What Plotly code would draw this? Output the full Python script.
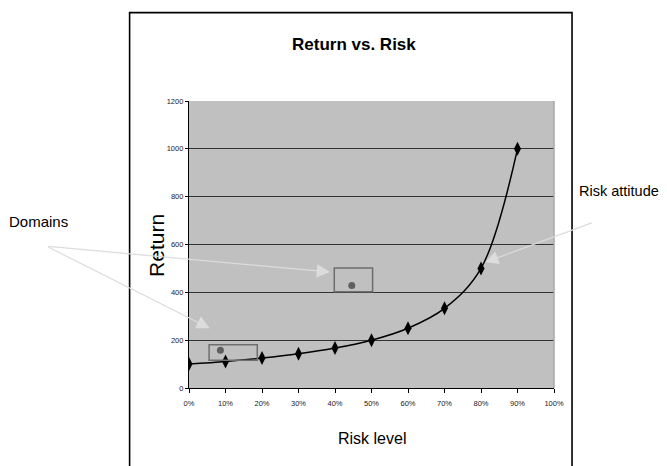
import plotly.graph_objects as go

# ---- data ----
risk_level = [0.0, 0.1, 0.2, 0.3, 0.4, 0.5, 0.6, 0.7, 0.8, 0.9]
returns = [100, 111, 125, 143, 167, 200, 250, 333, 500, 1000]

domain_dot_x = [0.086, 0.446]
domain_dot_y = [158, 429]
domain_box_x0 = [0.055, 0.398]
domain_box_x1 = [0.187, 0.503]
domain_box_y0 = [116, 402]
domain_box_y1 = [181, 502]

x_ticks = [0.0, 0.1, 0.2, 0.3, 0.4, 0.5, 0.6, 0.7, 0.8, 0.9, 1.0]
y_ticks = [0, 200, 400, 600, 800, 1000, 1200]

OFF = 8  # page body margin
W, H = 667 - OFF, 466 - OFF
L, R, T, B = 189.3 - OFF, 553.7 - OFF, 100.7 - OFF, 387.7 - OFF


def px(x):
    return (x - OFF - L) / (R - L)


def py(y):
    return (B - (y - OFF)) / (B - T)


ARIAL = "Liberation Sans, Arial, sans-serif"

fig = go.Figure()

fig.add_trace(go.Scatter(
    x=risk_level, y=returns, mode="lines+markers",
    line=dict(color="black", width=1.5, shape="spline", smoothing=1.0),
    marker=dict(symbol="diamond-tall", size=10, color="black"),
    showlegend=False, hoverinfo="skip",
))

fig.add_trace(go.Scatter(
    x=domain_dot_x, y=domain_dot_y, mode="markers",
    marker=dict(symbol="circle", size=7, color="#5f5f5f"),
    showlegend=False, hoverinfo="skip",
))

shapes = []
for x0, x1, y0, y1 in zip(domain_box_x0, domain_box_x1, domain_box_y0, domain_box_y1):
    shapes.append(dict(type="rect", xref="x", yref="y", x0=x0, x1=x1, y0=y0, y1=y1,
                       line=dict(color="#6e6e6e", width=1.5), fillcolor="rgba(0,0,0,0)"))

# right edge of plot area
shapes.append(dict(type="line", xref="paper", yref="paper", x0=1, x1=1, y0=0, y1=1,
                   line=dict(color="#a8a8a8", width=1.5)))
# outer frame
shapes.append(dict(type="rect", xref="paper", yref="paper",
                   x0=px(130), x1=px(571.7), y0=py(480), y1=py(12.3),
                   line=dict(color="black", width=1.6), fillcolor="rgba(0,0,0,0)", layer="above"))

annotations = []
# chart title
annotations.append(dict(text="<b>Return vs. Risk</b>", xref="paper", yref="paper", x=px(354), y=py(44),
                        xanchor="center", yanchor="middle", showarrow=False,
                        font=dict(family=ARIAL, size=17, color="black")))
# text labels
annotations.append(dict(text="Domains", xref="paper", yref="paper", x=px(8), y=py(221),
                        xanchor="left", yanchor="middle", showarrow=False,
                        font=dict(family=ARIAL, size=15, color="black")))
annotations.append(dict(text="Risk attitude", xref="paper", yref="paper", x=px(577), y=py(191),
                        xanchor="left", yanchor="middle", showarrow=False,
                        font=dict(family=ARIAL, size=14.5, color="black")))
annotations.append(dict(text="Return", xref="paper", yref="paper", x=px(157), y=py(245),
                        xanchor="center", yanchor="middle", showarrow=False, textangle=-90,
                        font=dict(family=ARIAL, size=21, color="black")))
annotations.append(dict(text="Risk level", xref="paper", yref="paper", x=px(372), y=py(438),
                        xanchor="center", yanchor="middle", showarrow=False,
                        font=dict(family=ARIAL, size=16, color="black")))

# arrows (tail -> tip, in pixels)
arrows = [((47, 246), (330, 271.7)), ((47, 246), (210, 328)), ((593, 222), (485, 262))]
for (tx, ty), (hx, hy) in arrows:
    annotations.append(dict(text="", xref="paper", yref="paper", x=px(hx), y=py(hy),
                            ax=tx - hx, ay=ty - hy, showarrow=True,
                            arrowhead=2, arrowsize=2.2, arrowwidth=1.2, arrowcolor="#dcdcdc"))

fig.update_layout(
    width=W, height=H,
    margin=dict(l=L, r=W - R, t=T, b=H - B, pad=0),
    paper_bgcolor="white", plot_bgcolor="#c0c0c0",
    shapes=shapes, annotations=annotations,
    xaxis=dict(range=[0, 1], tickvals=x_ticks, tickformat=".0%",
               showgrid=False, zeroline=False, showline=True, linecolor="black", linewidth=1.2,
               ticks="outside", ticklen=4, tickcolor="black", tickwidth=1,
               ticklabelstandoff=4,
               tickfont=dict(family=ARIAL, size=7.5, color="#222")),
    yaxis=dict(range=[0, 1200], tickvals=y_ticks,
               showgrid=True, gridcolor="#333333", gridwidth=1, zeroline=False,
               showline=True, linecolor="black", linewidth=1.2,
               ticks="outside", ticklen=3, tickcolor="black", tickwidth=1,
               ticklabelstandoff=0,
               tickfont=dict(family=ARIAL, size=7.5, color="#222")),
)

fig.write_html("out.html")
